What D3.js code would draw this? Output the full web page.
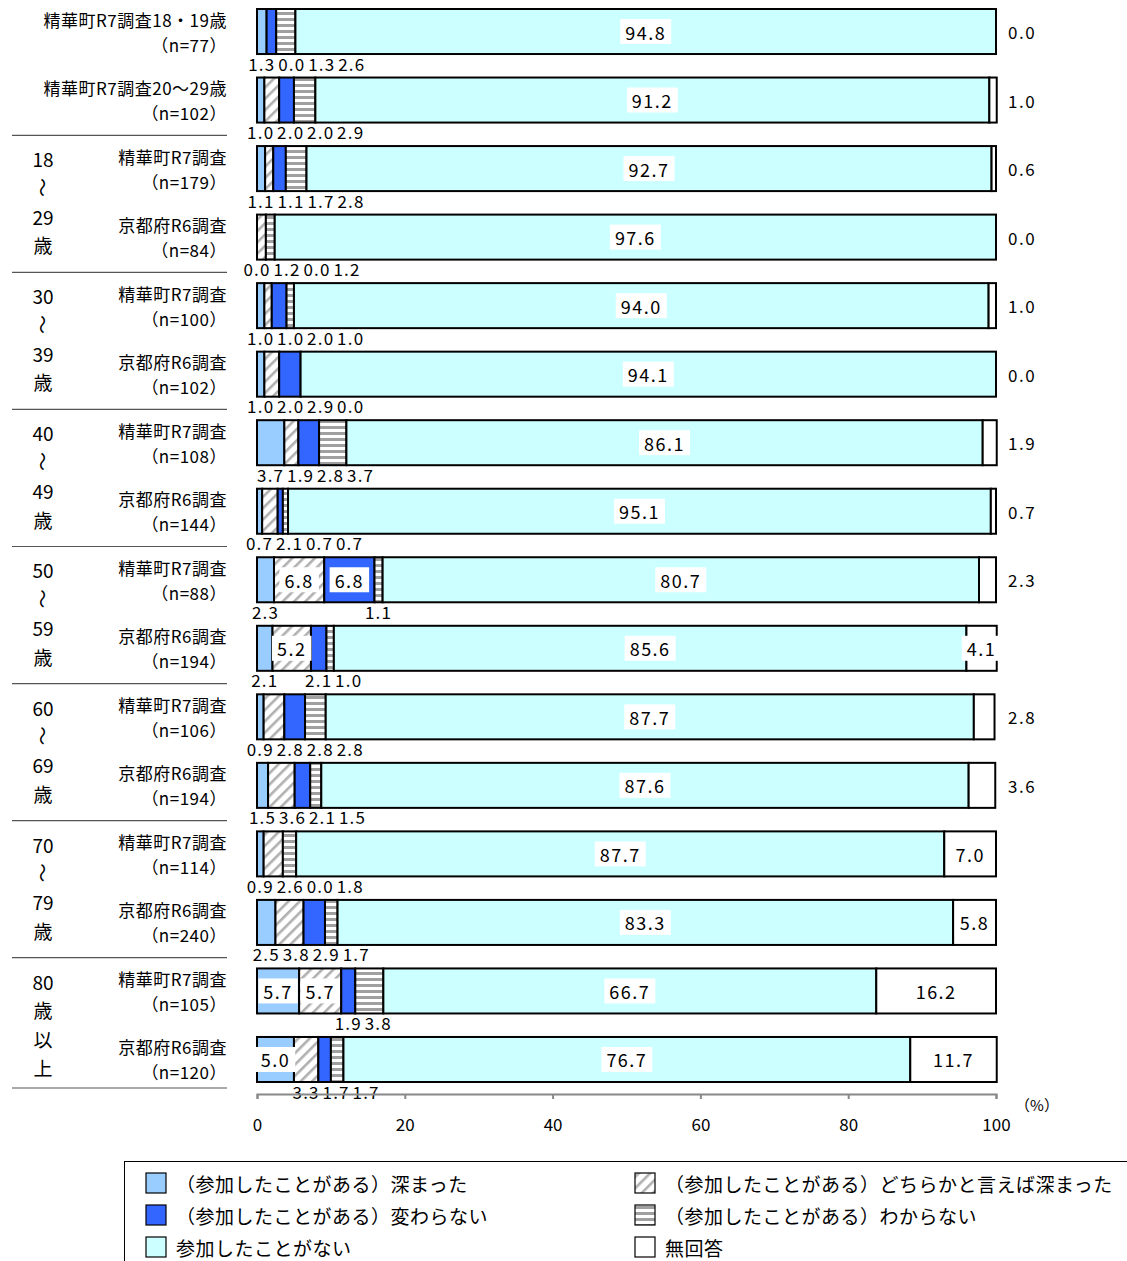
<!DOCTYPE html>
<html><head><meta charset="utf-8">
<script src="https://cdn.jsdelivr.net/npm/d3@7"></script>
<style>body{margin:0;background:#fff}svg{display:block}text{font-family:"Noto Sans CJK JP","Noto Sans",sans-serif;fill:#000}</style>
</head><body>
<svg id="c" width="1127" height="1261"></svg>
<script>
// ---- data ----
const rowNames = ["精華町R7調査18・19歳","精華町R7調査20～29歳","精華町R7調査","京都府R6調査","精華町R7調査","京都府R6調査","精華町R7調査","京都府R6調査","精華町R7調査","京都府R6調査","精華町R7調査","京都府R6調査","精華町R7調査","京都府R6調査","精華町R7調査","京都府R6調査"];
const sampleSizes = [77,102,179,84,100,102,108,144,88,194,106,194,114,240,105,120];
const ageGroupLines = [["18","～","29","歳"],["30","～","39","歳"],["40","～","49","歳"],["50","～","59","歳"],["60","～","69","歳"],["70","～","79","歳"],["80","歳","以","上"]];
const categories = ["（参加したことがある）深まった","（参加したことがある）どちらかと言えば深まった","（参加したことがある）変わらない","（参加したことがある）わからない","参加したことがない","無回答"];
const deepened         = [1.3,1.0,1.1,0.0,1.0,1.0,3.7,0.7,2.3,2.1,0.9,1.5,0.9,2.5,5.7,5.0];
const somewhatDeepened = [0.0,2.0,1.1,1.2,1.0,2.0,1.9,2.1,6.8,5.2,2.8,3.6,2.6,3.8,5.7,3.3];
const unchanged        = [1.3,2.0,1.7,0.0,2.0,2.9,2.8,0.7,6.8,2.1,2.8,2.1,0.0,2.9,1.9,1.7];
const unknown          = [2.6,2.9,2.8,1.2,1.0,0.0,3.7,0.7,1.1,1.0,2.8,1.5,1.8,1.7,3.8,1.7];
const notParticipated  = [94.8,91.2,92.7,97.6,94.0,94.1,86.1,95.1,80.7,85.6,87.7,87.6,87.7,83.3,66.7,76.7];
const noAnswer         = [0.0,1.0,0.6,0.0,1.0,0.0,1.9,0.7,2.3,4.1,2.8,3.6,7.0,5.8,16.2,11.7];
const xTicks = [0,20,40,60,80,100];

const series = [deepened, somewhatDeepened, unchanged, unknown, notParticipated, noAnswer];
const fills = ["#99CCFF","url(#hatch)","#3366FF","url(#hstripe)","#CCFFFF","#FFFFFF"];

const svg = d3.select("#c");
const defs = svg.append("defs");
const ph = defs.append("pattern").attr("id","hatch").attr("patternUnits","userSpaceOnUse")
  .attr("width",8).attr("height",8).attr("patternTransform","rotate(45)");
ph.append("rect").attr("width",8).attr("height",8).attr("fill","#fff");
ph.append("rect").attr("width",2.6).attr("height",8).attr("fill","#b0b0b0");
const ps = defs.append("pattern").attr("id","hstripe").attr("patternUnits","userSpaceOnUse")
  .attr("width",6).attr("height",6);
ps.append("rect").attr("width",6).attr("height",6).attr("fill","#fff");
ps.append("rect").attr("width",6).attr("height",3).attr("fill","#a0a0a0");

const rows = d3.range(rowNames.length);
const x = d3.scaleLinear().domain([0,100]).range([257,996]);
const y = d3.scaleBand().domain(rows).range([9,1082]).paddingInner(0.343).paddingOuter(0);
const bw = y.bandwidth();
const fmt = d3.format(".1f");

// separators
const sepRows = [1,3,5,7,9,11,13,15];
const sepY = d => d===15 ? y(d)+bw+6 : (y(d)+bw+y(d+1))/2 + 1;
svg.append("g").selectAll("line").data(sepRows).join("line")
  .attr("x1",12).attr("x2",227)
  .attr("y1",sepY).attr("y2",sepY)
  .attr("stroke","#555").attr("stroke-width",1.2);

// row labels
const lab = svg.append("g");
rows.forEach(i => {
  const cy = y(i) + bw/2;
  lab.append("text").attr("x",227).attr("y",cy-12.5).attr("text-anchor","end")
    .attr("dominant-baseline","central").attr("font-size",17).attr("letter-spacing",0.5).text(rowNames[i]);
  lab.append("text").attr("x",227).attr("y",cy+12.5).attr("text-anchor","end")
    .attr("dominant-baseline","central").attr("font-size",17).attr("letter-spacing",0.5).text("（n=" + sampleSizes[i] + "）");
});

// age group labels
ageGroupLines.forEach((lines, g) => {
  const r0 = 2 + g*2;
  const cy = (y(r0) + y(r0+1) + bw)/2 - 1;
  lines.forEach((t, k) => {
    const ty = cy + (k - 1.5) * 28.7;
    const el = lab.append("text").attr("x",43).attr("y",ty).attr("text-anchor","middle")
      .attr("dominant-baseline","central").attr("font-size",19).text(t);
    if (t === "～") el.attr("transform",`rotate(90,43,${ty})`);
  });
});

// bars
const barG = svg.append("g");
const labelG = svg.append("g");
rows.forEach(i => {
  const vals = series.map(s => s[i]);
  let cum = 0;
  const segs = vals.map((v,k) => { const s = {k, v, x0: cum, x1: cum + v}; cum += v; return s; });
  const top = y(i), cy = top + bw/2;
  barG.selectAll(null).data(segs.filter(s => s.v > 0)).join("rect")
    .attr("x", s => x(s.x0)).attr("y", top)
    .attr("width", s => x(s.x1) - x(s.x0)).attr("height", bw)
    .attr("fill", s => fills[s.k]).attr("stroke","#000").attr("stroke-width",2);

  const below = [];
  segs.forEach(s => {
    const cx = (x(s.x0) + x(s.x1))/2;
    if (s.v >= 4) {
      const t = labelG.append("text").attr("x",cx).attr("y",cy).attr("text-anchor","middle")
        .attr("dominant-baseline","central").attr("font-size",18).attr("letter-spacing",1.5).text(fmt(s.v));
      const w = t.node().getComputedTextLength();
      labelG.append("rect").attr("x",cx - w/2 - 5).attr("y",cy - 12.5)
        .attr("width",w + 10).attr("height",25).attr("fill","#fff");
    } else if (s.k === 5) {
      labelG.append("text").attr("x",1008).attr("y",cy).attr("dominant-baseline","central")
        .attr("font-size",17).attr("letter-spacing",1.5).text(fmt(s.v));
    } else {
      below.push({cx, v: s.v});
    }
  });
  let prev = -Infinity;
  below.forEach(b => {
    const px = Math.max(b.cx, prev + 30);
    prev = px;
    labelG.append("text").attr("x",px).attr("y",top + bw + 9).attr("text-anchor","middle")
      .attr("dominant-baseline","central").attr("font-size",17).attr("letter-spacing",1.2).text(fmt(b.v));
  });
});
labelG.selectAll("rect").lower();

// axis
const ax = svg.append("g").attr("transform","translate(0,1094)")
  .call(d3.axisBottom(x).tickValues(xTicks).tickSize(5).tickPadding(20).tickFormat(d3.format("d")));
ax.select(".domain").attr("stroke","#888").attr("stroke-width",2);
ax.selectAll(".tick line").attr("stroke","#888").attr("stroke-width",2);
ax.selectAll(".tick text").attr("font-size",17).attr("font-family","\"Noto Sans CJK JP\",sans-serif").attr("fill","#000");
svg.append("text").attr("x",1037).attr("y",1104).attr("text-anchor","middle")
  .attr("dominant-baseline","central").attr("font-size",15).text("（%）");

// legend
svg.append("rect").attr("x",124.5).attr("y",1161.5).attr("width",1010).attr("height",120)
  .attr("fill","none").attr("stroke","#000").attr("stroke-width",1);
const legendOrder = [0,2,4,1,3,5];
legendOrder.forEach((k, j) => {
  const col = Math.floor(j/3), r = j % 3;
  const sx = col === 0 ? 146 : 635, sy = 1183 + r*32;
  svg.append("rect").attr("x",sx).attr("y",sy-10).attr("width",20).attr("height",20)
    .attr("fill",fills[k]).attr("stroke","#000").attr("stroke-width",1.2);
  svg.append("text").attr("x",sx+30).attr("y",sy).attr("dominant-baseline","central")
    .attr("font-size",19).attr("letter-spacing",0.5).text(categories[k]);
});
</script>
</body></html>
